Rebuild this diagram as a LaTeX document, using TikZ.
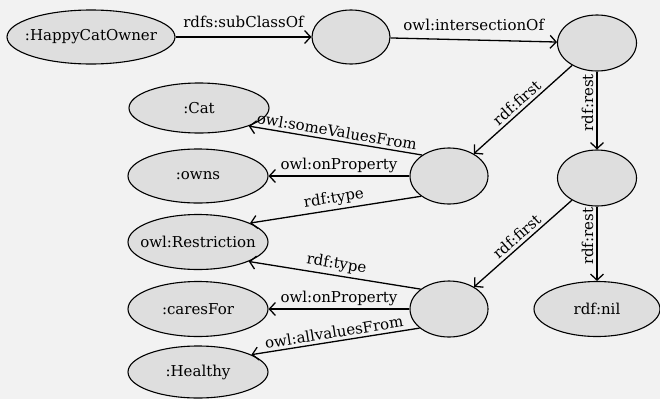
\documentclass[tikz,border=0pt]{standalone}
\usepackage{fontspec}
\setmainfont{DejaVu Serif}
\usepackage{tikz}
\usetikzlibrary{shapes}
\usetikzlibrary{arrows.meta}
\definecolor{bgcol}{HTML}{F2F2F2}
\definecolor{nodefill}{HTML}{DEDEDE}

\begin{document}
\begin{tikzpicture}[x=1pt, y=-1pt,
		res/.style={ellipse, draw, line width=1.1pt, fill=nodefill, inner xsep=-20pt, inner ysep=0pt, font=\fontsize{15}{17}\selectfont},
		rel/.style={line width=1.3pt, -{Straight Barb[length=6pt,width=13pt]}},
		lbl/.style={font=\fontsize{15}{17}\selectfont, inner sep=3pt}]
				\fill[bgcol] (0,0) rectangle (660,399);
				\useasboundingbox (0,0) rectangle (660,399);
				
				\node[res, minimum width=168, minimum height=54] (owner) at (91,37) {:HappyCatOwner};
				\node[res, minimum width=78, minimum height=54] (bnA) at (351,37) {};
				\node[res, minimum width=79, minimum height=56] (bnB) at (597,43) {};
				\node[res, minimum width=79, minimum height=56] (bnC) at (597,178) {};
				\node[res, minimum width=126, minimum height=55] (nil) at (597,309) {rdf:nil};
				\node[res, minimum width=78, minimum height=56] (resA) at (449,176) {};
				\node[res, minimum width=78, minimum height=56] (resB) at (449,309) {};
				\node[res, minimum width=140, minimum height=50] (cat) at (199,108) {:Cat};
				\node[res, minimum width=140, minimum height=54] (owns) at (198,176) {:owns};
				\node[res, minimum width=140, minimum height=55] (restr) at (198,242) {owl:Restriction};
				\node[res, minimum width=140, minimum height=55] (cares) at (198,309) {:caresFor};
				\node[res, minimum width=140, minimum height=52] (healthy) at (198,372) {:Healthy};
				
				\draw[rel] (owner) -- (bnA) node[lbl, midway, above=6pt] (l1) {rdfs:subClassOf};
				\draw[rel] (bnA) -- (bnB) node[lbl, midway, above=6pt] (l2) {owl:intersectionOf};
				\draw[rel] (bnB) -- (resA) node[lbl, midway, sloped, above] (l3) {rdf:first};
				\draw[rel] (bnB) -- (bnC) node[lbl, pos=0.4, rotate=90, anchor=south] (l4) {rdf:rest};
				\draw[rel] (bnC) -- (resB) node[lbl, midway, sloped, above] (l5) {rdf:first};
				\draw[rel] (bnC) -- (nil) node[lbl, pos=0.4, rotate=90, anchor=south] (l6) {rdf:rest};
				\draw[rel] (resA.142) -- (cat.-20) node[lbl, midway, sloped, above] (l7) {owl:someValuesFrom};
				\draw[rel] (resA) -- (owns) node[lbl, midway, above] (l8) {owl:onProperty};
				\draw[rel] (resA.216) -- (restr.20) node[lbl, midway, sloped, above] (l9) {rdf:type};
				\draw[rel] (resB.145) -- (restr.-21) node[lbl, midway, sloped, above] (l10) {rdf:type};
				\draw[rel] (resB) -- (cares) node[lbl, midway, above] (l11) {owl:onProperty};
				\draw[rel] (resB.213) -- (healthy.18) node[lbl, midway, sloped, above] (l12) {owl:allvaluesFrom};
			\end{tikzpicture}
\end{document}
